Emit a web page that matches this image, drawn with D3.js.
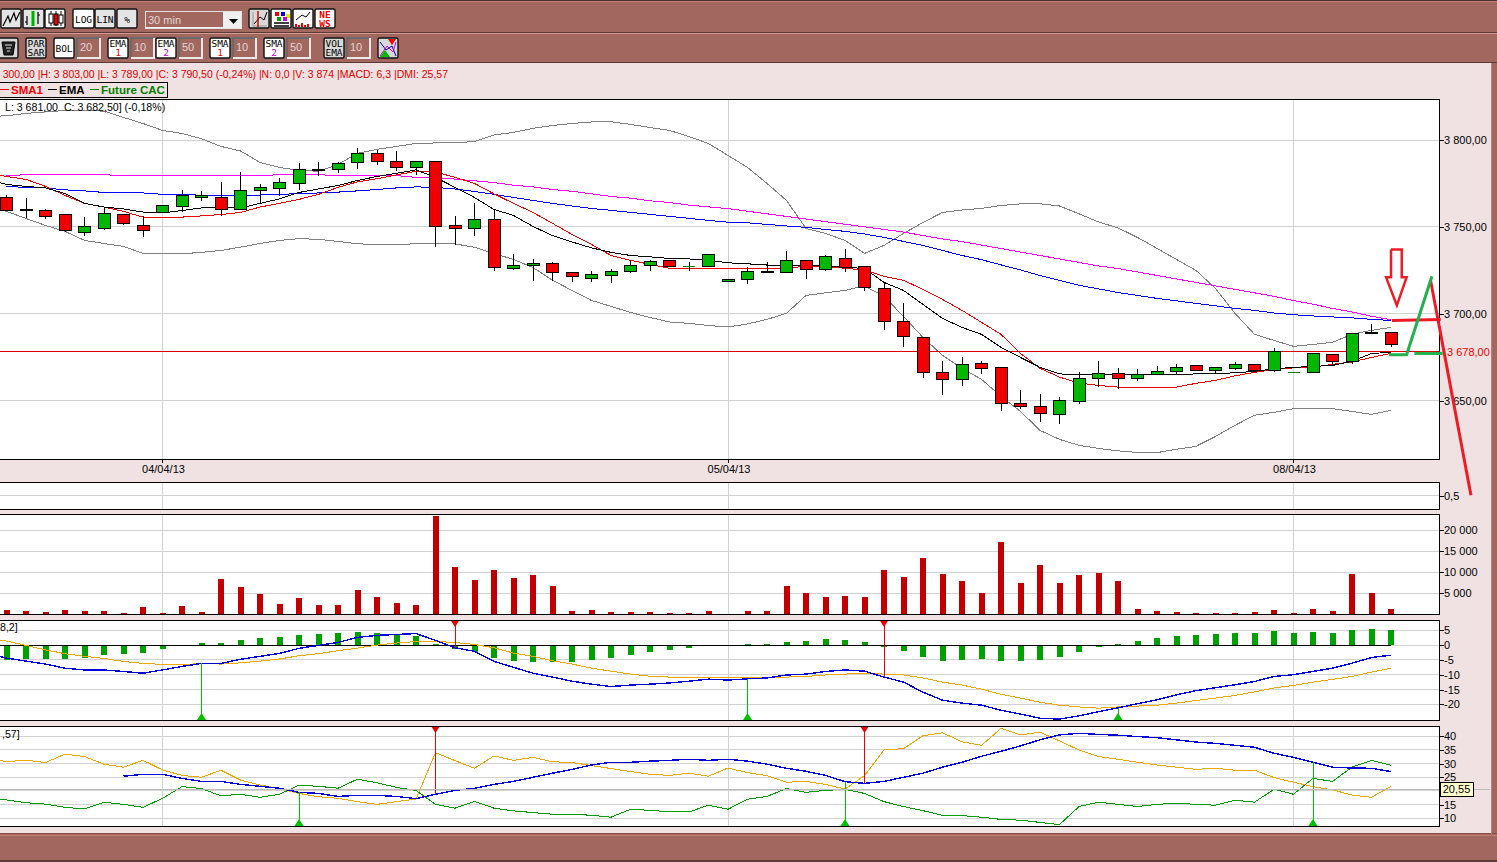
<!DOCTYPE html>
<html>
<head>
<meta charset="utf-8">
<title>CAC 30 min</title>
<script src="https://cdn.jsdelivr.net/npm/d3@7"></script>
<style>
  html, body { margin: 0; padding: 0; background: #f0e2e2; overflow: hidden; }
  svg { display: block; }
  text { font-family: "Liberation Sans", Arial, sans-serif; font-size: 11px; fill: #000; white-space: pre; }
  .crisp { shape-rendering: crispEdges; }
  .btn text { font-family: "DejaVu Sans Mono", monospace; font-size: 9.5px; }
  .axis path { display: none; }
  .axis line { stroke: #000; shape-rendering: crispEdges; }
</style>
</head>
<body>
<div id="chart"></div>
<script>
// Candles, one entry per 30 min bar
const opens = [3767,3760,3759.5,3757,3747,3749,3757,3751,3758,3761.5,3767,3767,3760,3771,3772,3775,3783,3783,3787,3792,3787.5,3784,3787.5,3750.5,3749,3754.5,3726,3727.5,3729,3723.5,3720,3722,3724.5,3727.5,3730.5,3727,3727,3718.5,3719.5,3724.5,3723.5,3730.5,3725.5,3732,3727,3714.5,3695.5,3686,3666,3662,3671.5,3669,3648,3646.5,3642,3649.5,3662.5,3665.5,3662.5,3665,3666.5,3670,3667,3668.5,3671,3667,3666,3666,3676.5,3672.5,3689,3689];
const highs = [3768.5,3766.5,3760,3757.5,3755.5,3761.5,3757.5,3756,3762,3771,3770.5,3776,3781.5,3774.5,3778,3786.5,3787.5,3787.5,3795.5,3794.5,3793.5,3788,3787.5,3756.5,3764,3760.5,3734.5,3731.5,3730,3724,3724.5,3725.5,3731,3731,3731,3729.5,3734,3719.5,3727,3729.5,3736,3730.5,3734,3737,3727,3717.5,3706,3686,3673,3675,3672.5,3669,3656,3654,3652,3666.5,3672.5,3668.5,3668,3670,3671,3670.5,3669,3672,3671,3680,3666,3677,3677,3689,3694,3689];
const lows = [3759,3755,3754.5,3747,3744.5,3748,3751,3744,3758,3758.5,3765,3756,3759.5,3764,3767.5,3771,3779,3781,3783.5,3785.5,3782,3780,3738.5,3739.5,3744.5,3724.5,3725,3719,3719,3718.5,3718,3717.5,3723.5,3724.5,3727,3724.5,3727,3718.5,3717,3723.5,3723.5,3720,3724.5,3724,3713,3690.5,3681,3663,3653,3658.5,3665.5,3644,3645,3637.5,3636.5,3648,3657.5,3656.5,3661,3664.5,3665.5,3667,3666,3667.5,3667,3666.5,3666,3666,3670.5,3671,3688.5,3681];
const closes = [3759.5,3759.5,3756,3748,3750,3757.5,3752,3748,3762,3768,3768,3760,3771,3772.5,3775.5,3783,3782.5,3786.5,3792,3787.5,3784,3787.5,3750,3749,3754,3726.5,3727.5,3729,3723.5,3721.5,3722.5,3724.5,3728,3730,3727,3727,3734,3719.5,3724,3723.5,3730.5,3725.5,3733,3726.5,3715,3695.5,3687,3666,3662,3670.5,3668.5,3648,3646.5,3642.5,3650,3662.5,3665.5,3662.5,3665,3666.5,3669,3667.5,3669,3671,3667,3678,3666,3677,3672.5,3688.5,3688.5,3682.5];

// Overlays on the price panel; the first value of the first four is the bar before the visible window
const sma1 = [3781.3,3779,3777.3,3773.3,3768.1,3763.5,3761.4,3758.9,3755.6,3755.4,3755.6,3756.3,3757.1,3758.3,3761.4,3763.5,3765.8,3768.7,3772.7,3775.9,3777.7,3779.9,3782,3781.6,3778.5,3775,3769,3763.5,3758.3,3752,3745.6,3739.9,3733.5,3730.7,3728.4,3726.1,3725.9,3726.2,3725.9,3725.9,3725.9,3726.4,3727.2,3727.2,3726.1,3725.2,3721.5,3719.2,3714,3708.2,3701.9,3695,3688.1,3677.1,3668.5,3663.5,3660,3658.7,3657.7,3657.7,3657.7,3657.7,3659.9,3661.6,3664.2,3666.2,3667.9,3668.8,3669.2,3670.8,3672.2,3674.8,3677.1];
const ema1 = [3777.3,3774.4,3773.3,3772.4,3769.2,3763.5,3761.4,3760.3,3758.5,3758,3759.4,3760.9,3760.9,3760.9,3763.5,3766.1,3769.8,3771.8,3773.8,3776.7,3779,3780.8,3782.8,3778.5,3772.7,3766.9,3760,3756.6,3750.2,3745,3741.3,3737.9,3735.3,3733.5,3732.7,3731.8,3731.5,3730.7,3729.3,3728.7,3728,3727.8,3727.8,3727.8,3726.6,3726.1,3718,3713.4,3705.3,3697.3,3692.1,3688.1,3680.6,3674.8,3669.1,3665.3,3665,3665,3665,3664.8,3664.8,3665,3665.3,3665.6,3665.9,3666.8,3668.2,3669.1,3669.6,3670.2,3672.5,3677.1,3677.7];
const bollUp = [3813.6,3813.9,3815.3,3816.2,3817,3817,3816.6,3813,3809.5,3805.5,3803.8,3800.7,3796.3,3793.7,3787.1,3784.2,3782.5,3782,3785.9,3792.3,3794.6,3796.3,3798,3798.3,3798.3,3799.2,3802.9,3804.4,3806.7,3808.4,3809.5,3810.4,3810.5,3809,3807.2,3805.5,3802,3798,3791.1,3784.2,3775,3765.2,3749.1,3746.2,3742.2,3734.7,3739.3,3746.2,3752.5,3758.3,3759.7,3760.6,3762.3,3763.2,3763.3,3762,3757.5,3752.8,3749.4,3743.9,3737.6,3731.2,3724.9,3714.5,3700.2,3688.1,3684.6,3681.2,3682.3,3683.5,3688.1,3690.4,3692.1];
const bollLow = [3761.2,3758.9,3754.8,3750.8,3747.4,3742.2,3740.4,3738.7,3734.7,3734.5,3734.5,3735.3,3736.4,3738.3,3740.4,3742.2,3743.2,3742.8,3741.6,3740.2,3739.9,3739.9,3740.2,3740.2,3740.2,3738.2,3734.7,3731.2,3726.6,3719.2,3713.4,3707.6,3704.2,3700.7,3697.8,3695.2,3694.4,3693.2,3692.3,3694.1,3696.7,3700.2,3710.5,3712,3713.4,3716,3710,3698.4,3686.3,3676,3668.5,3662.2,3652.4,3643.7,3632.8,3627.6,3624.2,3622.4,3621,3620.1,3620,3621.9,3623.6,3629.3,3635.7,3641.5,3643.2,3645.3,3645.5,3645.3,3643.7,3642,3644.3];
const ema2 = [3773.3,3772.7,3772.4,3771.3,3770.7,3769.8,3769.8,3769.5,3768.7,3768.4,3768.3,3768.3,3768.3,3768.3,3768.7,3769.1,3769.5,3770,3770.7,3771.5,3772.4,3773,3772.7,3771.8,3770.4,3768.7,3766.9,3765.2,3763.5,3762,3760.6,3759.5,3758.3,3757.2,3756,3754.9,3753.7,3752.7,3752.3,3751.4,3750.5,3749.7,3748.5,3747.4,3745.9,3743.9,3741.6,3739.3,3736.4,3733.5,3731.1,3728.1,3725.2,3722,3719.1,3716.3,3714.3,3712.2,3710.5,3708.8,3707.4,3705.9,3704.5,3703,3701.9,3700.4,3699.4,3698.7,3698.1,3697.6,3696.7,3696.1];
const sma2 = [3779.5,3780,3780,3780,3780,3780,3779.5,3779.5,3779.5,3779.5,3779.5,3779.5,3779.5,3779.5,3780,3780,3780,3779.5,3779.5,3779.5,3779.5,3778.5,3778,3777.5,3776.5,3775.5,3774,3773,3771.5,3770.5,3769,3767.5,3766.5,3765,3764,3762.5,3761.5,3760.5,3759,3757.5,3756,3754.5,3753,3751.5,3750,3748.5,3747,3745,3743,3741.5,3739.5,3737.5,3735.5,3733.5,3731.5,3729.5,3727.5,3726,3724,3722,3720,3718,3716,3714,3712,3710,3707.5,3705.5,3703,3701,3698.5,3696.5];
const priceLine = 3678;

const volumes = [1030,800,550,1030,800,800,320,1750,320,2000,550,8400,6500,4850,2460,3890,2220,2220,5800,4130,2700,2220,23400,11270,8170,10550,8650,9370,6750,800,1030,550,550,550,320,320,800,0,800,800,6750,5080,4130,4370,4130,10550,8900,13400,9600,7950,5080,17220,7460,11750,7460,9370,9840,7950,1270,800,550,320,320,320,550,1030,320,1270,800,9600,5080,1270];

const macdHist = [-5,-4.6,-4.6,-4.6,-4.3,-3.3,-2.9,-2.6,-1.2,0,0.8,0.8,1.8,2.5,2.8,3.5,3.8,4.2,4.5,4.2,3.5,3.2,0.45,-1.2,-2.25,-4.3,-5.3,-5.6,-5.6,-5.6,-4.95,-4.3,-3.3,-2.25,-1.6,-0.9,0,0,0.45,0.45,1.1,1.5,2.1,1.8,1.1,-0.55,-1.9,-3.9,-5.3,-4.95,-4.6,-5.3,-5.3,-4.95,-3.9,-2.25,-0.55,0.45,1.5,2.5,3.2,3.5,3.8,4.2,4.2,4.8,4.2,4.5,4.2,5.2,5.5,5.2];
const macdLine = [-2.9,-4.4,-5.4,-6.4,-7.8,-8.4,-8.4,-8.9,-9.5,-8.4,-7.2,-6.2,-6.2,-4.8,-3.8,-2.8,-1.1,-0.1,0.9,2.6,3.3,3.6,3.9,1.6,-0.9,-2.1,-5.5,-7.5,-9.5,-10.8,-12.2,-13.2,-14,-13.5,-13.2,-12.8,-12.2,-11.5,-11.8,-11.4,-11.1,-10.1,-9.8,-8.9,-8.4,-8.8,-10.8,-12.5,-15.9,-18.6,-19.6,-20.3,-22,-23.3,-24.7,-25,-23.9,-22.5,-21.2,-19.8,-18.5,-16.8,-15.4,-14.4,-13.4,-12.3,-10.6,-10,-8.9,-7.8,-6.1,-4.2,-3.4];
const macdSignal = [2.3,1.35,-0.1,-1.6,-2.9,-3.8,-4.5,-5.5,-6.2,-6.5,-6.5,-6.3,-6.4,-6,-5.4,-4.7,-3.6,-2.9,-1.9,-1,0,0.7,1.2,1.2,0.9,0.2,-0.9,-2.7,-3.8,-5.3,-6.4,-7.8,-8.8,-9.8,-10.5,-10.8,-11.1,-11.1,-11.1,-11.1,-11.1,-10.8,-10.6,-10.1,-9.8,-9.5,-9.8,-10.1,-11.1,-12.5,-13.5,-14.9,-16.6,-17.9,-19.3,-20.3,-20.9,-21.3,-20.9,-20.6,-20.3,-19.6,-18.7,-17.9,-17,-15.8,-14.5,-13.6,-12.5,-11.6,-10.6,-9.1,-7.8];
const macdBuy = [10, 38, 57];
const macdSell = [23, 45];

const dmiPlus = [32.3,30.7,31.3,30.4,33.5,32.6,29.8,28.7,31.2,27.7,25.7,25,27.6,24,22.2,20.9,19.1,17.9,17.3,16.1,15.1,16.1,17,34,31.1,28.3,32.8,31.2,32.3,30.7,30.4,29.3,28.2,27.1,26.1,25.7,26.5,25.4,28.4,26.7,25.6,23.2,23.5,22.4,20.7,25.6,35,35.5,40.2,41.3,38,36.7,42.9,40.5,41.5,38.3,35,32.6,31.6,30.5,29.5,28.7,27.9,28.3,27.6,27.6,24.9,23.2,21.6,20.4,18.5,17.7,21.7];
const dmiMinus = [17.6,16.7,15.7,15.2,14,13.4,15.9,15.1,14,17.3,21.6,20.9,18.2,18.8,17.7,18.8,22.1,21.7,21,24.3,23,21.3,20.2,15.1,13.7,16.2,13.7,12.7,12.1,11.5,11.5,11.1,10.4,13.3,12.9,12.4,12.3,14.8,13.3,17,18,20.9,19.5,20.2,20.6,19.1,16.1,14.3,12.8,11.1,11,10.4,9.6,9.3,8.5,7.7,14.3,15.9,15.1,14.3,15.1,15.5,15.1,14.8,16.6,15.9,20.6,18.8,24.6,23.5,28.7,31.2,29.4];
// starts at bar 6
const adx = [25.4,26.1,26.1,24.6,23.5,23.5,22.4,21.7,21,19.5,19.1,18,18.4,18.4,18,17.2,18.8,20.2,21,22.4,23.5,25,26.5,27.9,29.5,30.5,30.5,30.9,31.2,31.6,31.2,31.6,30.9,29.8,28.3,27.2,25.7,23.4,22.8,23.5,25,26.5,28.7,30.5,32.7,34.5,36.5,38.7,40.5,41.1,40.7,40.4,39.9,39.5,38.7,37.9,37.4,36.7,36,33.8,32.3,30.5,28.7,28.4,28.3,27.1];
const dmiBuy = [15, 43, 67];
const dmiSell = [22, 44];
const dmiLast = 20.55;

const dateBars = [8, 37, 66];
const dateLabels = ['04/04/13', '05/04/13', '08/04/13'];
const priceTicks = [3800, 3750, 3700, 3650];
const volumeTicks = [20000, 15000, 10000, 5000];
const macdTicks = [5, 0, -5, -10, -15, -20];
const dmiTicks = [40, 35, 30, 25, 15, 10];

// Freehand annotations on the screenshot, as [bar, price]
const redArrow = [[71,3737],[71.55,3737],[71.55,3720.9],[71.8,3720.9],[71.3,3704.8],[70.75,3720.9],[71,3720.9],[71,3737]];
const redLevel = [[71.05,3696.1],[73.55,3696.7]];
const redDrop = [[73.03,3719.1],[75.1,3595.4]];
const greenBase = [[70.9,3676.4],[71.8,3676.4],[73.1,3721.5]];
const greenLevel = [[72.2,3677.1],[73.65,3677.1]];

const W = 1497, H = 862;
const PLOT_R = 1439;
const BROWN = '#a26860', PINK = '#f0e2e2';
const RED = '#f00000', GREEN = '#00b800', GRID = '#d2d2d2';

const frLocale = d3.formatLocale({ decimal: ',', thousands: ' ', grouping: [3], currency: ['', ''] });
const fmt2 = frLocale.format(',.2f');
const fmt0 = frLocale.format(',.0f');

const svg = d3.select('#chart').append('svg').attr('width', W).attr('height', H);

const x = d3.scaleLinear().domain([0, 71]).range([6.5, 1391]);
const yPrice = d3.scaleLinear().domain([3800, 3650]).range([140, 400.5]);
const yFlat = d3.scaleLinear().domain([0, 1]).range([509, 482]);
const yVol = d3.scaleLinear().domain([0, 20000]).range([614.3, 530.3]);
const yMacd = d3.scaleLinear().domain([5, -20]).range([630.3, 704.3]);
const yDmi = d3.scaleLinear().domain([40, 10]).range([736.3, 818.3]);

// Window chrome
svg.append('rect').attr('width', W).attr('height', H).attr('fill', PINK);
const chrome = svg.append('g').attr('class', 'crisp');
chrome.append('rect').attr('x', 0).attr('y', 0).attr('width', W).attr('height', 63).attr('fill', BROWN);
chrome.append('rect').attr('x', 0).attr('y', 833).attr('width', W).attr('height', 29).attr('fill', BROWN);
chrome.append('rect').attr('x', 1491).attr('y', 0).attr('width', 6).attr('height', H).attr('fill', BROWN);
[[0, 1, '#4a2c28'], [1, 1, '#c08078'], [32, 1, '#5c3a35'], [33, 1, '#d89a94'], [62, 1, '#5c3a35'], [833, 1, '#8c5048'], [835, 1, '#c08078'], [860, 2, '#5c3a35']]
  .forEach(([y, h, c]) => chrome.append('rect').attr('x', 0).attr('y', y).attr('width', W).attr('height', h).attr('fill', c));
chrome.append('rect').attr('x', 1491).attr('y', 63).attr('width', 1).attr('height', 771).attr('fill', '#c08078');

// Toolbars
const button = (bx, by, w, h, fill) => {
  const g = svg.append('g').attr('class', 'btn');
  g.append('rect').attr('x', bx).attr('y', by).attr('width', w).attr('height', h).attr('rx', 1.5)
    .attr('fill', fill).attr('stroke', '#111').attr('stroke-width', 1.4);
  return g;
};
const label = (g, bx, by, w, lines, colors = [], weight = 'normal') => {
  lines.forEach((t, i) => {
    g.append('text').attr('x', bx + w / 2).attr('y', by + (lines.length > 1 ? 9 + i * 9 : 14))
      .attr('text-anchor', 'middle').style('fill', colors[i] || '#000').style('font-weight', weight).text(t);
  });
};
const sketch = (g, d, stroke = '#000', sw = 1, fill = 'none') => g.append('path').attr('d', d)
  .attr('stroke', stroke).attr('stroke-width', sw).attr('fill', fill);
const inputBox = (bx, by, t) => {
  svg.append('path').attr('class', 'crisp').attr('d', `M${bx},${by + 20}V${by}H${bx + 23}`)
    .attr('fill', 'none').attr('stroke', '#6a6a6a').attr('stroke-width', 2);
  svg.append('path').attr('class', 'crisp').attr('d', `M${bx},${by + 20}H${bx + 23}V${by}`)
    .attr('fill', 'none').attr('stroke', '#ece8e8').attr('stroke-width', 2);
  svg.append('text').attr('x', bx + 3).attr('y', by + 13).style('fill', '#e4d4d4').text(t);
};

let b = button(1, 9, 20, 19, '#e4e4e4');
sketch(b, 'M3,26 L8,16 L10,22 L14,13 L16,20 L20,12', '#000', 1.2);
b = button(23, 9, 21, 19, '#e4e4e4');
sketch(b, 'M27,16V25M25,22H27M38,12V24M38,15H40', '#000', 1.2);
sketch(b, 'M33,11V26', '#00b000', 3);
b = button(45, 9, 20, 19, '#fff');
sketch(b, 'M51,11V26M56,11V26M61,11V26', '#000', 1);
b.append('rect').attr('x', 49).attr('y', 14).attr('width', 4).attr('height', 9).attr('fill', '#fff').attr('stroke', '#000');
b.append('rect').attr('x', 54).attr('y', 14).attr('width', 4).attr('height', 11).attr('fill', RED).attr('stroke', '#000');
b.append('rect').attr('x', 59).attr('y', 15).attr('width', 4).attr('height', 8).attr('fill', '#fff').attr('stroke', '#000');
b = button(73, 9, 21, 19, '#fff'); label(b, 73, 9, 21, ['LOG']);
b = button(95, 9, 20, 19, '#e4e4e4'); label(b, 95, 9, 20, ['LIN']);
b = button(117, 9, 20, 19, '#e4e4e4'); label(b, 117, 9, 20, ['%']);

svg.append('rect').attr('class', 'crisp').attr('x', 145).attr('y', 11).attr('width', 96).attr('height', 17)
  .attr('fill', '#f0f0f0').attr('stroke', '#e8e0e0');
svg.append('rect').attr('class', 'crisp').attr('x', 146).attr('y', 12).attr('width', 77).attr('height', 15).attr('fill', BROWN);
svg.append('text').attr('x', 148).attr('y', 24).style('fill', '#e4d4d4').text('30 min');
svg.append('path').attr('d', 'M229,19H238L233.5,24Z').attr('fill', '#000');

b = button(249, 9, 20, 19, '#d8d8d8');
sketch(b, 'M253,12V26H267', '#999'); sketch(b, 'M254,24L260,17L264,20L267,12');
sketch(b, 'M258,11V27', '#c00000', 1.4);
b = button(271, 9, 20, 19, '#fff');
[[275, 12, RED], [281, 12, '#0000d0'], [286, 14, '#e8e800'], [277, 17, '#00a000'], [283, 17, '#d000d0']].forEach(([rx, ry, c]) =>
  b.append('rect').attr('x', rx).attr('y', ry).attr('width', 4).attr('height', 4).attr('fill', c));
sketch(b, 'M274,23H289M274,26H289', '#000', 1.6);
b = button(293, 9, 20, 19, '#fff');
sketch(b, 'M296,20L302,15L306,17L310,12'); sketch(b, 'M296,24V27M299,25V27M302,23V27M305,25V27M308,24V27', RED, 2);
b = button(315, 9, 20, 19, '#fff');
label(b, 315, 9, 20, ['NE', 'WS'], [RED, RED], 'bold');

b = button(-2, 38, 20, 20, '#d8d8d8');
sketch(b, 'M2,42H15L13,55H4Z', '#000', 1, '#222');
sketch(b, 'M5,45H12M6,48H11M7,51H10', '#ddd', 1);
b = button(26, 38, 20, 20, '#d8d8d8'); label(b, 26, 38, 20, ['PAR', 'SAR']);
b = button(54, 38, 20, 20, '#fff'); label(b, 54, 38, 20, ['BOL']);
inputBox(77, 38, '20');
b = button(108, 38, 20, 20, '#fff'); label(b, 108, 38, 20, ['EMA', '1'], ['#000', RED]);
inputBox(131, 38, '10');
b = button(156, 38, 20, 20, '#fff'); label(b, 156, 38, 20, ['EMA', '2'], ['#000', '#c000c0']);
inputBox(179, 38, '50');
b = button(210, 38, 20, 20, '#fff'); label(b, 210, 38, 20, ['SMA', '1'], ['#000', RED]);
inputBox(233, 38, '10');
b = button(264, 38, 20, 20, '#fff'); label(b, 264, 38, 20, ['SMA', '2'], ['#000', '#c000c0']);
inputBox(287, 38, '50');
b = button(324, 38, 20, 20, '#d8d8d8'); label(b, 324, 38, 20, ['VOL', 'EMA']);
inputBox(347, 38, '10');
b = button(378, 38, 20, 20, '#d8d8d8');
sketch(b, 'M380,42L386,50L392,46L396,56', '#0000d0');
sketch(b, 'M380,56L387,46L393,52L396,42', '#d000d0');
b.append('path').attr('d', 'M388,39H396L392,45Z').attr('fill', RED);
b.append('path').attr('d', 'M380,57H390L385,50Z').attr('fill', GREEN);

// Quote line and legend
svg.append('text').attr('x', 448).attr('y', 78).attr('text-anchor', 'end').style('fill', '#e00000').style('font-size', '10.5px')
  .text('300,00 |H: 3 803,00 |L: 3 789,00 |C: 3 790,50 (-0,24%) |N: 0,0 |V: 3 874 |MACD: 6,3 |DMI: 25,57');
svg.append('rect').attr('class', 'crisp').attr('x', -2).attr('y', 82).attr('width', 169).attr('height', 15)
  .attr('fill', PINK).attr('stroke', '#000');
[['SMA1', 0, 11, '#f00000'], ['EMA', 48, 59, '#000'], ['Future CAC', 90, 101, '#008000']].forEach(([t, lx, tx, c]) => {
  svg.append('line').attr('class', 'crisp').attr('x1', lx).attr('x2', tx - 2).attr('y1', 89).attr('y2', 89).attr('stroke', c);
  svg.append('text').attr('x', tx).attr('y', 94).style('fill', c).style('font-weight', 'bold').style('font-size', '11.5px').text(t);
});

// One white panel with its grid, border, clip and right axis
const panel = (id, top, bottom, y, ticks, format) => {
  svg.append('rect').attr('class', 'crisp').attr('x', -2).attr('y', top).attr('width', PLOT_R + 2).attr('height', bottom - top)
    .attr('fill', '#fff');
  svg.append('clipPath').attr('id', id).append('rect').attr('x', 0).attr('y', top).attr('width', PLOT_R).attr('height', bottom - top);
  const g = svg.append('g').attr('clip-path', `url(#${id})`);
  const grid = g.append('g').attr('class', 'crisp');
  grid.selectAll('line.h').data(ticks).enter().append('line').attr('class', 'h')
    .attr('x1', 0).attr('x2', PLOT_R).attr('y1', d => y(d)).attr('y2', d => y(d)).attr('stroke', GRID);
  grid.selectAll('line.v').data(dateBars).enter().append('line').attr('class', 'v')
    .attr('x1', d => x(d)).attr('x2', d => x(d)).attr('y1', top).attr('y2', bottom).attr('stroke', GRID);
  const axis = svg.append('g').attr('class', 'axis').attr('transform', `translate(${PLOT_R},0)`)
    .call(d3.axisRight(y).tickValues(ticks).tickFormat(format).tickSize(5).tickPadding(0));
  axis.selectAll('text').style('font-size', '11px').style('font-family', '"Liberation Sans", Arial, sans-serif');
  return g;
};
const border = (top, bottom) => svg.append('rect').attr('class', 'crisp').attr('x', -2).attr('y', top)
  .attr('width', PLOT_R + 2).attr('height', bottom - top).attr('fill', 'none').attr('stroke', '#000');

const drawLine = (g, values, y, color, start = 0, width = 1) => {
  const line = d3.line().x((d, i) => x(i + start)).y(d => y(d));
  g.append('path').datum(values).attr('class', 'crisp').attr('d', line)
    .attr('fill', 'none').attr('stroke', color).attr('stroke-width', width);
};

// Price panel
const main = panel('clip-main', 99, 459, yPrice, priceTicks, fmt2);
drawLine(main, bollUp, yPrice, '#808080', -1);
drawLine(main, bollLow, yPrice, '#808080', -1);
main.append('line').attr('class', 'crisp').attr('x1', 0).attr('x2', PLOT_R)
  .attr('y1', yPrice(priceLine)).attr('y2', yPrice(priceLine)).attr('stroke', '#d80000');
drawLine(main, sma2, yPrice, '#ff00ff');
drawLine(main, ema2, yPrice, '#0000ff');
drawLine(main, sma1, yPrice, '#f00000', -1);
drawLine(main, ema1, yPrice, '#000', -1);

const bars = d3.range(opens.length);
const candles = main.append('g').attr('class', 'crisp');
candles.selectAll('line.wick').data(bars.filter(i => highs[i] > lows[i])).enter().append('line').attr('class', 'wick')
  .attr('x1', i => x(i)).attr('x2', i => x(i))
  .attr('y1', i => yPrice(highs[i])).attr('y2', i => yPrice(lows[i])).attr('stroke', '#000');
candles.selectAll('rect').data(bars.filter(i => opens[i] !== closes[i])).enter().append('rect')
  .attr('x', i => x(i) - 6).attr('width', 12)
  .attr('y', i => yPrice(Math.max(opens[i], closes[i])))
  .attr('height', i => Math.abs(yPrice(opens[i]) - yPrice(closes[i])))
  .attr('fill', i => closes[i] > opens[i] ? GREEN : RED).attr('stroke', '#000');
candles.selectAll('line.flat').data(bars.filter(i => opens[i] === closes[i])).enter().append('line').attr('class', 'flat')
  .attr('x1', i => x(i) - 6).attr('x2', i => x(i) + 6)
  .attr('y1', i => yPrice(opens[i])).attr('y2', i => yPrice(opens[i])).attr('stroke', '#008000');

svg.append('text').attr('x', 5).attr('y', 111).style('font-size', '10.6px').text('L: 3 681,00  C: 3 682,50] (-0,18%)');
border(99, 459);
svg.append('text').attr('x', 1447).attr('y', yPrice(priceLine) + 4).style('fill', '#f00000').text(fmt2(priceLine));

// Date labels between the price panel and the next one
dateBars.forEach((d, i) => {
  svg.append('line').attr('class', 'crisp').attr('x1', x(d)).attr('x2', x(d)).attr('y1', 459).attr('y2', 463).attr('stroke', '#000');
  svg.append('text').attr('x', x(d) + 1).attr('y', 473).attr('text-anchor', 'middle').text(dateLabels[i]);
});

// Empty study panel
panel('clip-flat', 482, 509, yFlat, [0.5], d => String(d).replace('.', ','));
border(482, 509);

// Volume
const vol = panel('clip-vol', 514, 614.5, yVol, volumeTicks, fmt0);
vol.append('g').attr('class', 'crisp').selectAll('rect').data(bars.filter(i => volumes[i] > 0)).enter().append('rect')
  .attr('x', i => x(i) - 3).attr('width', 6)
  .attr('y', i => yVol(volumes[i])).attr('height', i => yVol(0) - yVol(volumes[i]))
  .attr('fill', '#c00000');
border(514, 614.5);

// Signal pins: a line from the study value to the panel edge with a triangle on the edge
const pins = (g, list, series, offset, y, top, bottom, isBuy) => {
  const color = isBuy ? '#00c000' : '#f00000';
  list.forEach(i => {
    const edge = isBuy ? bottom : top;
    g.append('line').attr('class', 'crisp').attr('x1', x(i)).attr('x2', x(i))
      .attr('y1', y(series[i - offset])).attr('y2', edge).attr('stroke', color);
    const dir = isBuy ? -7 : 7;
    g.append('path').attr('d', `M${x(i) - 4.5},${edge}L${x(i) + 4.5},${edge}L${x(i)},${edge + dir}Z`).attr('fill', color);
  });
};

// MACD
const macd = panel('clip-macd', 620, 720, yMacd, macdTicks, d => String(d));
macd.append('g').attr('class', 'crisp').selectAll('rect').data(bars.filter(i => macdHist[i] !== 0)).enter().append('rect')
  .attr('x', i => x(i) - 3).attr('width', 6)
  .attr('y', i => yMacd(Math.max(macdHist[i], 0)))
  .attr('height', i => Math.abs(yMacd(macdHist[i]) - yMacd(0)))
  .attr('fill', '#00a000');
macd.append('line').attr('class', 'crisp').attr('x1', 0).attr('x2', x(71)).attr('y1', yMacd(0)).attr('y2', yMacd(0)).attr('stroke', '#000');
drawLine(macd, macdSignal, yMacd, '#f0a800', -1);
drawLine(macd, macdLine, yMacd, '#0000d8', -1, 1.4);
pins(macd, macdBuy, macdLine, -1, yMacd, 620, 720, true);
pins(macd, macdSell, macdLine, -1, yMacd, 620, 720, false);
svg.append('text').attr('x', 0).attr('y', 631).style('font-size', '10.6px').text('8,2]');
border(620, 720);

// DMI
const dmi = panel('clip-dmi', 726, 826, yDmi, dmiTicks.concat(20), d => d === 20 ? '' : String(d));
svg.append('line').attr('class', 'crisp').attr('x1', 0).attr('x2', 1490).attr('y1', yDmi(dmiLast)).attr('y2', yDmi(dmiLast)).attr('stroke', '#bcbcbc');
drawLine(dmi, dmiPlus, yDmi, '#f0a800', -1);
drawLine(dmi, dmiMinus, yDmi, '#00a000', -1);
drawLine(dmi, adx, yDmi, '#0000d8', 6, 1.4);
pins(dmi, dmiBuy, adx, 6, yDmi, 726, 826, true);
pins(dmi, dmiSell, adx, 6, yDmi, 726, 826, false);
svg.append('text').attr('x', 2).attr('y', 738).style('font-size', '10.6px').text(',57]');
border(726, 826);
svg.append('rect').attr('class', 'crisp').attr('x', 1440).attr('y', yDmi(dmiLast) - 7).attr('width', 33).attr('height', 14)
  .attr('fill', '#ffffd0').attr('stroke', '#000');
svg.append('text').attr('x', 1456.5).attr('y', yDmi(dmiLast) + 4).attr('text-anchor', 'middle').text(String(dmiLast).replace('.', ','));

// Freehand drawing on top of everything
const ink = d3.line().x(d => x(d[0])).y(d => yPrice(d[1]));
[[redArrow, '#ed1c24', 2.5], [redLevel, '#ed1c24', 3], [redDrop, '#ed1c24', 3], [greenBase, '#22b14c', 3], [greenLevel, '#22b14c', 3]]
  .forEach(([pts, c, w]) => svg.append('path').datum(pts).attr('d', ink).attr('fill', 'none').attr('stroke', c).attr('stroke-width', w));
</script>
</body>
</html>
